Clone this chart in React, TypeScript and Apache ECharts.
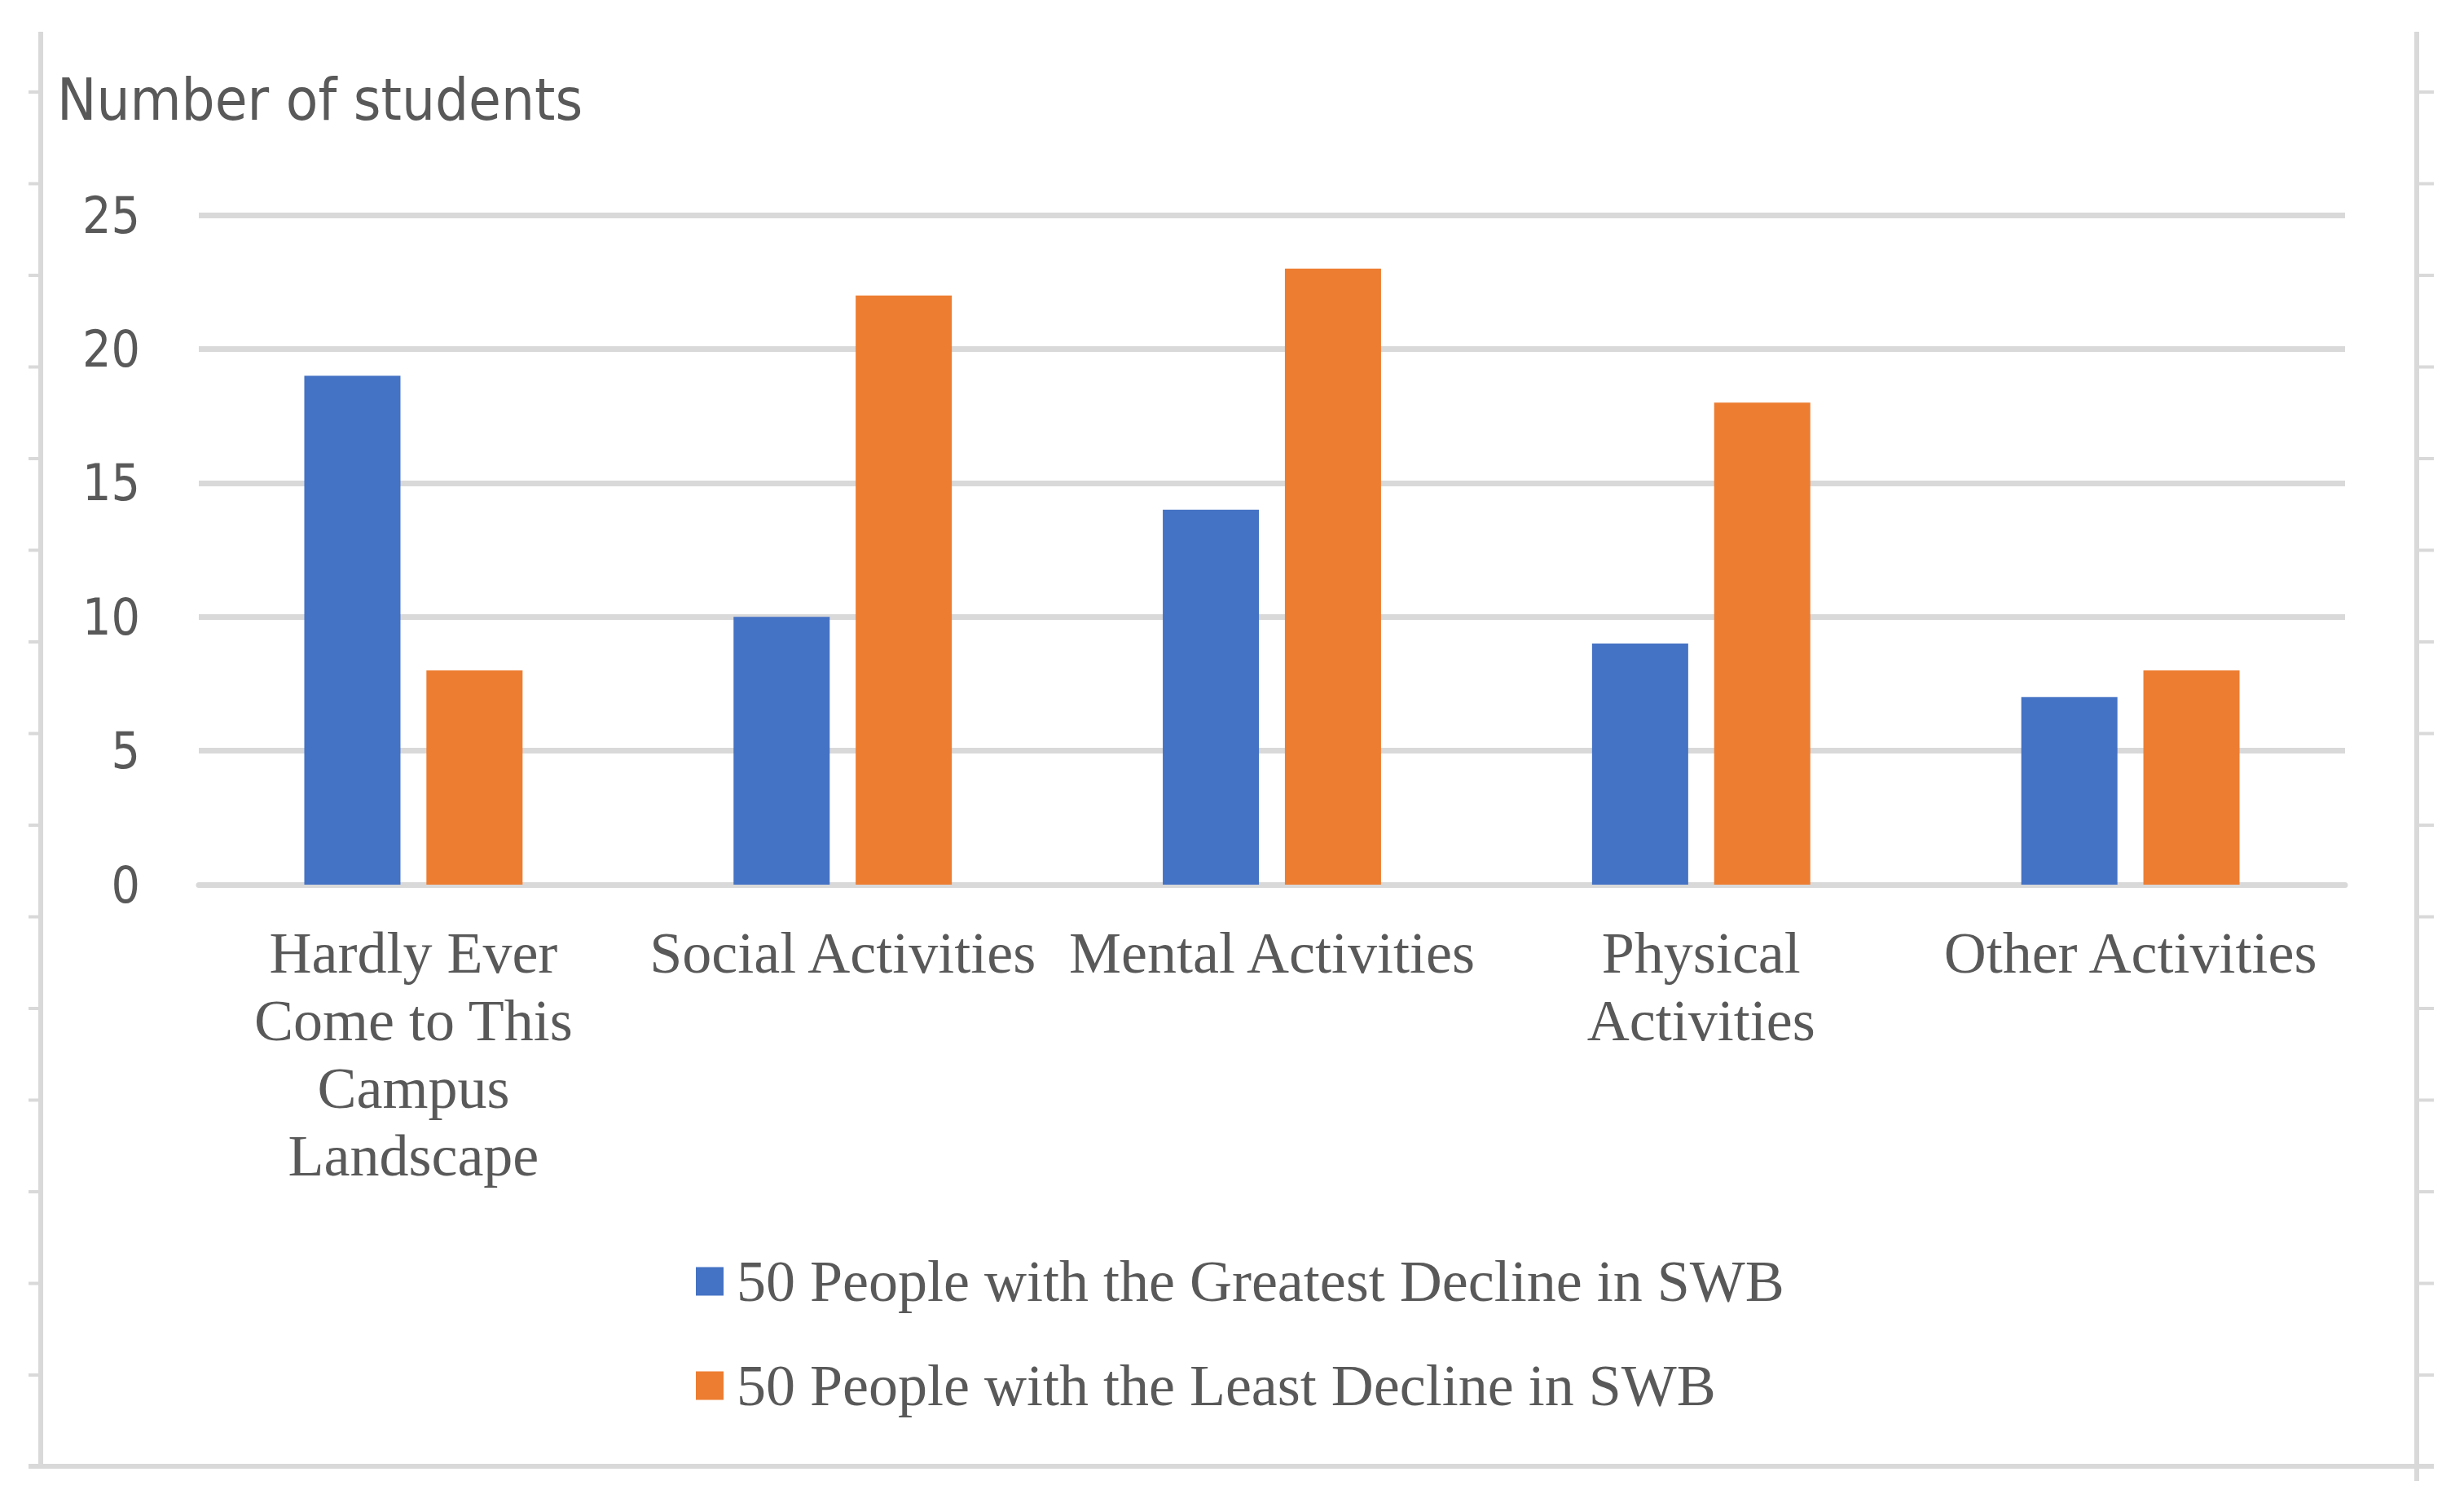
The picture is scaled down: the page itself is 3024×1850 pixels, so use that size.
import React, { useEffect, useRef } from "react";
import * as echarts from "echarts";

const categories = [
  "Hardly Ever\nCome to This\nCampus\nLandscape",
  "Social Activities",
  "Mental Activities",
  "Physical\nActivities",
  "Other Activities",
];
const seriesNames = [
  "50 People with the Greatest Decline in SWB",
  "50 People with the Least Decline in SWB",
];
const greatestDecline = [19, 10, 14, 9, 7];
const leastDecline = [8, 22, 23, 18, 8];
const yMin = 0;
const yMax = 25;
const yInterval = 5;
const yAxisTitle = "Number of students";

const SANS = "'DejaVu Sans Condensed', 'DejaVu Sans', sans-serif";
const SERIF = "'Liberation Serif', 'Times New Roman', serif";
const TEXT = "#595959";
const LINE = "#D9D9D9";

function frameGraphics() {
  const els: any[] = [];
  const top = 39;
  const bottom = 1800;
  const leftX = 50;
  const rightX = 2966;
  const lw = 6;
  els.push({ type: "line", shape: { x1: leftX, y1: top, x2: leftX, y2: bottom }, style: { stroke: LINE, lineWidth: lw } });
  els.push({ type: "line", shape: { x1: rightX, y1: top, x2: rightX, y2: 1818 }, style: { stroke: LINE, lineWidth: lw } });
  els.push({ type: "line", shape: { x1: 35, y1: bottom, x2: 2987, y2: bottom }, style: { stroke: LINE, lineWidth: lw } });
  for (let k = 0; k < 16; k++) {
    const y = 113 + 112.5 * k;
    els.push({ type: "line", shape: { x1: 35, y1: y, x2: leftX, y2: y }, style: { stroke: LINE, lineWidth: 4 } });
    els.push({ type: "line", shape: { x1: rightX, y1: y, x2: 2987, y2: y }, style: { stroke: LINE, lineWidth: 4 } });
  }
  return els;
}

export default function App() {
  const ref = useRef<HTMLDivElement>(null);
  useEffect(() => {
    if (!ref.current) return;
    const chart = echarts.init(ref.current, null, { renderer: "svg" });
    chart.setOption({
      animation: false,
      backgroundColor: "#FFFFFF",
      title: {
        text: yAxisTitle,
        left: 70,
        top: 86,
        padding: 0,
        textStyle: { fontFamily: SANS, fontSize: 72, fontWeight: "normal", color: TEXT, lineHeight: 72 },
      },
      grid: { left: 244, right: 146, top: 264, bottom: 764, containLabel: false },
      legend: {
        orient: "vertical",
        left: 854,
        top: 1537,
        padding: 0,
        icon: "rect",
        itemWidth: 34,
        itemHeight: 35,
        itemGap: 56,
        data: seriesNames,
        textStyle: { fontFamily: SERIF, fontSize: 72, lineHeight: 72, color: TEXT, padding: [0, 0, 0, 11] },
      },
      xAxis: {
        type: "category",
        data: categories,
        axisLine: { show: true, lineStyle: { color: LINE, width: 7 } },
        axisTick: { show: false },
        axisLabel: {
          interval: 0,
          margin: 42,
          fontFamily: SERIF,
          fontSize: 72,
          lineHeight: 83,
          color: TEXT,
          align: "center",
        },
        splitLine: { show: false },
      },
      yAxis: {
        type: "value",
        min: yMin,
        max: yMax,
        interval: yInterval,
        axisLine: { show: false },
        axisTick: { show: false },
        axisLabel: { margin: 72, fontFamily: SANS, fontSize: 62, color: TEXT },
        splitLine: { show: true, lineStyle: { color: LINE, width: 7 } },
      },
      series: [
        {
          name: seriesNames[0],
          type: "bar",
          data: greatestDecline,
          barWidth: 118,
          barGap: "27%",
          itemStyle: { color: "#4472C4" },
        },
        {
          name: seriesNames[1],
          type: "bar",
          data: leastDecline,
          barWidth: 118,
          barGap: "27%",
          itemStyle: { color: "#ED7D31" },
        },
      ],
      graphic: frameGraphics(),
    });
    return () => chart.dispose();
  }, []);
  return (
    <div
      ref={ref}
      style={{ position: "absolute", left: 0, top: 0, width: 3024, height: 1850 }}
    />
  );
}
